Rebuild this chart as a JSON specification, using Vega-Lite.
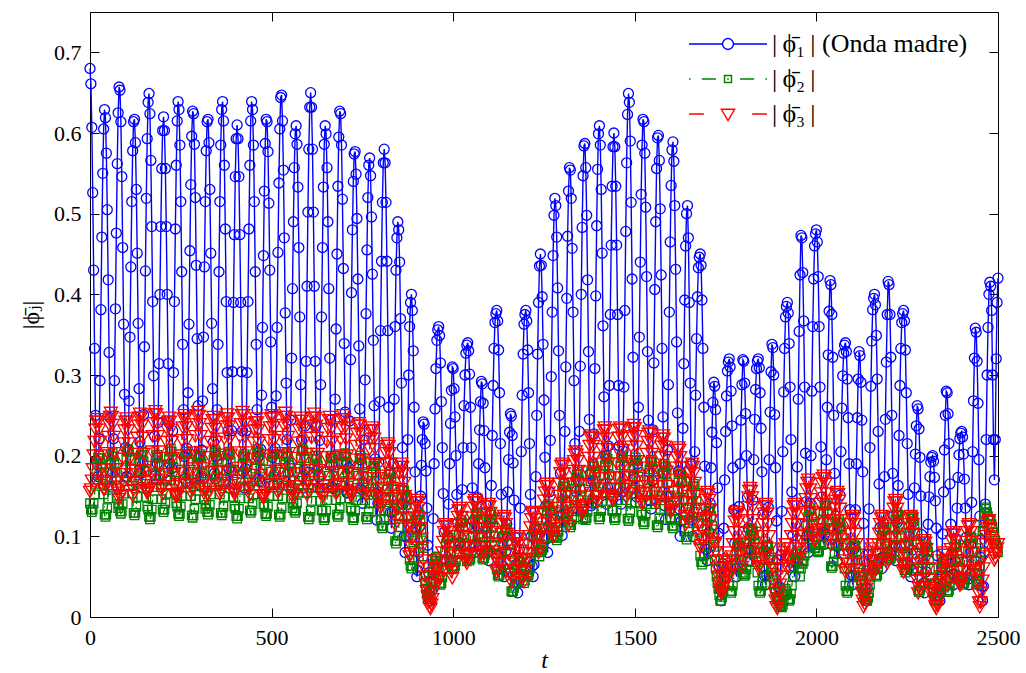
{
"$schema": "https://vega.github.io/schema/vega-lite/v6.json",
"width": 908, "height": 605,
"autosize": {"type": "none"},
"padding": {"left": 90, "top": 12, "right": 28, "bottom": 56},
"background": "white",
"config": {
  "view": {"stroke": "black", "strokeWidth": 1},
  "axis": {"grid": false, "domain": false, "tickColor": "black", "tickWidth": 1, "tickSize": -9,
           "labelFont": "Liberation Serif, DejaVu Serif, serif", "labelFontSize": 22, "labelColor": "black",
           "titleFont": "Liberation Serif, DejaVu Serif, serif", "titleFontSize": 24, "titleFontWeight": "normal", "titleColor": "black"}
},
"data": {"values": [
{"t":0,"a":0.68,"b":0.141,"c":0.155},{"t":2.5,"a":0.661,"b":0.133,"c":0.158},{"t":5,"a":0.607,"b":0.13,"c":0.169},{"t":7.5,"a":0.526,"b":0.133,"c":0.183},{"t":10,"a":0.43,"b":0.141,"c":0.2},{"t":12.5,"a":0.333,"b":0.152,"c":0.217},{"t":15,"a":0.25,"b":0.165,"c":0.232},{"t":17.5,"a":0.193,"b":0.178,"c":0.242},{"t":20,"a":0.17,"b":0.19,"c":0.245},{"t":22.5,"a":0.174,"b":0.197,"c":0.242},{"t":25,"a":0.221,"b":0.2,"c":0.232},{"t":27.5,"a":0.293,"b":0.197,"c":0.217},{"t":30,"a":0.381,"b":0.19,"c":0.2},{"t":32.5,"a":0.471,"b":0.178,"c":0.183},{"t":35,"a":0.55,"b":0.165,"c":0.169},{"t":37.5,"a":0.605,"b":0.152,"c":0.158},
{"t":40,"a":0.629,"b":0.127,"c":0.158},{"t":42.5,"a":0.619,"b":0.124,"c":0.168},{"t":45,"a":0.575,"b":0.127,"c":0.183},{"t":47.5,"a":0.505,"b":0.135,"c":0.203},{"t":50,"a":0.418,"b":0.147,"c":0.223},{"t":52.5,"a":0.328,"b":0.163,"c":0.238},{"t":55,"a":0.247,"b":0.179,"c":0.248},{"t":57.5,"a":0.189,"b":0.191,"c":0.253},{"t":60,"a":0.161,"b":0.199,"c":0.248},{"t":62.5,"a":0.179,"b":0.203,"c":0.238},{"t":65,"a":0.221,"b":0.199,"c":0.223},{"t":67.5,"a":0.293,"b":0.191,"c":0.203},{"t":70,"a":0.382,"b":0.179,"c":0.183},{"t":72.5,"a":0.476,"b":0.163,"c":0.168},{"t":75,"a":0.562,"b":0.147,"c":0.158},{"t":77.5,"a":0.625,"b":0.135,"c":0.154},
{"t":80,"a":0.657,"b":0.14,"c":0.146},{"t":82.5,"a":0.653,"b":0.131,"c":0.15},{"t":85,"a":0.614,"b":0.128,"c":0.161},{"t":87.5,"a":0.546,"b":0.131,"c":0.177},{"t":90,"a":0.458,"b":0.14,"c":0.196},{"t":92.5,"a":0.363,"b":0.153,"c":0.215},{"t":95,"a":0.276,"b":0.168,"c":0.231},{"t":97.5,"a":0.21,"b":0.183,"c":0.242},{"t":100,"a":0.174,"b":0.196,"c":0.246},{"t":102.5,"a":0.174,"b":0.205,"c":0.242},{"t":105,"a":0.207,"b":0.208,"c":0.231},{"t":107.5,"a":0.268,"b":0.205,"c":0.215},{"t":110,"a":0.347,"b":0.196,"c":0.196},{"t":112.5,"a":0.434,"b":0.183,"c":0.177},{"t":115,"a":0.515,"b":0.168,"c":0.161},{"t":117.5,"a":0.578,"b":0.153,"c":0.15},
{"t":120,"a":0.614,"b":0.129,"c":0.157},{"t":122.5,"a":0.617,"b":0.126,"c":0.167},{"t":125,"a":0.588,"b":0.129,"c":0.182},{"t":127.5,"a":0.53,"b":0.137,"c":0.202},{"t":130,"a":0.451,"b":0.149,"c":0.222},{"t":132.5,"a":0.364,"b":0.165,"c":0.237},{"t":135,"a":0.283,"b":0.181,"c":0.247},{"t":137.5,"a":0.217,"b":0.193,"c":0.252},{"t":140,"a":0.178,"b":0.201,"c":0.247},{"t":142.5,"a":0.161,"b":0.205,"c":0.237},{"t":145,"a":0.19,"b":0.201,"c":0.222},{"t":147.5,"a":0.251,"b":0.193,"c":0.202},{"t":150,"a":0.335,"b":0.181,"c":0.182},{"t":152.5,"a":0.429,"b":0.165,"c":0.167},{"t":155,"a":0.519,"b":0.149,"c":0.157},{"t":157.5,"a":0.593,"b":0.137,"c":0.153},
{"t":160,"a":0.638,"b":0.133,"c":0.155},{"t":162.5,"a":0.649,"b":0.124,"c":0.159},{"t":165,"a":0.624,"b":0.121,"c":0.17},{"t":167.5,"a":0.566,"b":0.124,"c":0.186},{"t":170,"a":0.484,"b":0.133,"c":0.205},{"t":172.5,"a":0.391,"b":0.146,"c":0.224},{"t":175,"a":0.299,"b":0.161,"c":0.24},{"t":177.5,"a":0.224,"b":0.176,"c":0.251},{"t":180,"a":0.175,"b":0.189,"c":0.255},{"t":182.5,"a":0.17,"b":0.198,"c":0.251},{"t":185,"a":0.19,"b":0.201,"c":0.24},{"t":187.5,"a":0.241,"b":0.198,"c":0.224},{"t":190,"a":0.314,"b":0.189,"c":0.205},{"t":192.5,"a":0.40,"b":0.176,"c":0.186},{"t":195,"a":0.484,"b":0.161,"c":0.17},{"t":197.5,"a":0.556,"b":0.146,"c":0.159},
{"t":200,"a":0.603,"b":0.133,"c":0.152},{"t":202.5,"a":0.62,"b":0.13,"c":0.162},{"t":205,"a":0.603,"b":0.133,"c":0.177},{"t":207.5,"a":0.556,"b":0.141,"c":0.197},{"t":210,"a":0.484,"b":0.153,"c":0.217},{"t":212.5,"a":0.40,"b":0.169,"c":0.232},{"t":215,"a":0.314,"b":0.185,"c":0.242},{"t":217.5,"a":0.241,"b":0.197,"c":0.247},{"t":220,"a":0.19,"b":0.205,"c":0.242},{"t":222.5,"a":0.17,"b":0.209,"c":0.232},{"t":225,"a":0.184,"b":0.205,"c":0.217},{"t":227.5,"a":0.231,"b":0.197,"c":0.197},{"t":230,"a":0.303,"b":0.185,"c":0.177},{"t":232.5,"a":0.391,"b":0.169,"c":0.162},{"t":235,"a":0.481,"b":0.153,"c":0.152},{"t":237.5,"a":0.56,"b":0.141,"c":0.148},
{"t":240,"a":0.615,"b":0.137,"c":0.15},{"t":242.5,"a":0.639,"b":0.128,"c":0.154},{"t":245,"a":0.629,"b":0.125,"c":0.165},{"t":247.5,"a":0.585,"b":0.128,"c":0.181},{"t":250,"a":0.515,"b":0.137,"c":0.2},{"t":252.5,"a":0.428,"b":0.15,"c":0.219},{"t":255,"a":0.338,"b":0.165,"c":0.235},{"t":257.5,"a":0.257,"b":0.18,"c":0.246},{"t":260,"a":0.199,"b":0.193,"c":0.25},{"t":262.5,"a":0.171,"b":0.202,"c":0.246},{"t":265,"a":0.168,"b":0.205,"c":0.235},{"t":267.5,"a":0.209,"b":0.202,"c":0.219},{"t":270,"a":0.278,"b":0.193,"c":0.2},{"t":272.5,"a":0.363,"b":0.18,"c":0.181},{"t":275,"a":0.454,"b":0.165,"c":0.165},{"t":277.5,"a":0.536,"b":0.15,"c":0.154},
{"t":280,"a":0.596,"b":0.126,"c":0.159},{"t":282.5,"a":0.627,"b":0.123,"c":0.169},{"t":285,"a":0.624,"b":0.126,"c":0.184},{"t":287.5,"a":0.586,"b":0.134,"c":0.204},{"t":290,"a":0.52,"b":0.146,"c":0.224},{"t":292.5,"a":0.436,"b":0.162,"c":0.239},{"t":295,"a":0.345,"b":0.178,"c":0.249},{"t":297.5,"a":0.262,"b":0.19,"c":0.254},{"t":300,"a":0.199,"b":0.198,"c":0.249},{"t":302.5,"a":0.164,"b":0.202,"c":0.239},{"t":305,"a":0.174,"b":0.198,"c":0.224},{"t":307.5,"a":0.207,"b":0.19,"c":0.204},{"t":310,"a":0.268,"b":0.178,"c":0.184},{"t":312.5,"a":0.347,"b":0.162,"c":0.169},{"t":315,"a":0.434,"b":0.146,"c":0.159},{"t":317.5,"a":0.515,"b":0.134,"c":0.155},
{"t":320,"a":0.578,"b":0.139,"c":0.148},{"t":322.5,"a":0.614,"b":0.13,"c":0.152},{"t":325,"a":0.617,"b":0.127,"c":0.163},{"t":327.5,"a":0.588,"b":0.13,"c":0.179},{"t":330,"a":0.53,"b":0.139,"c":0.198},{"t":332.5,"a":0.451,"b":0.152,"c":0.217},{"t":335,"a":0.364,"b":0.167,"c":0.233},{"t":337.5,"a":0.283,"b":0.182,"c":0.244},{"t":340,"a":0.217,"b":0.195,"c":0.248},{"t":342.5,"a":0.178,"b":0.204,"c":0.244},{"t":345,"a":0.171,"b":0.207,"c":0.233},{"t":347.5,"a":0.199,"b":0.204,"c":0.217},{"t":350,"a":0.257,"b":0.195,"c":0.198},{"t":352.5,"a":0.338,"b":0.182,"c":0.179},{"t":355,"a":0.428,"b":0.167,"c":0.163},{"t":357.5,"a":0.515,"b":0.152,"c":0.152},
{"t":360,"a":0.585,"b":0.129,"c":0.156},{"t":362.5,"a":0.629,"b":0.126,"c":0.166},{"t":365,"a":0.639,"b":0.129,"c":0.181},{"t":367.5,"a":0.615,"b":0.137,"c":0.201},{"t":370,"a":0.56,"b":0.149,"c":0.221},{"t":372.5,"a":0.481,"b":0.165,"c":0.236},{"t":375,"a":0.391,"b":0.181,"c":0.246},{"t":377.5,"a":0.303,"b":0.193,"c":0.251},{"t":380,"a":0.231,"b":0.201,"c":0.246},{"t":382.5,"a":0.184,"b":0.205,"c":0.236},{"t":385,"a":0.16,"b":0.201,"c":0.221},{"t":387.5,"a":0.18,"b":0.193,"c":0.201},{"t":390,"a":0.231,"b":0.181,"c":0.181},{"t":392.5,"a":0.304,"b":0.165,"c":0.166},{"t":395,"a":0.39,"b":0.149,"c":0.156},{"t":397.5,"a":0.474,"b":0.137,"c":0.152},
{"t":400,"a":0.546,"b":0.134,"c":0.154},{"t":402.5,"a":0.593,"b":0.125,"c":0.158},{"t":405,"a":0.61,"b":0.122,"c":0.169},{"t":407.5,"a":0.593,"b":0.125,"c":0.185},{"t":410,"a":0.546,"b":0.134,"c":0.204},{"t":412.5,"a":0.474,"b":0.147,"c":0.223},{"t":415,"a":0.39,"b":0.162,"c":0.239},{"t":417.5,"a":0.304,"b":0.177,"c":0.25},{"t":420,"a":0.231,"b":0.19,"c":0.254},{"t":422.5,"a":0.18,"b":0.199,"c":0.25},{"t":425,"a":0.16,"b":0.202,"c":0.239},{"t":427.5,"a":0.184,"b":0.199,"c":0.223},{"t":430,"a":0.231,"b":0.19,"c":0.204},{"t":432.5,"a":0.303,"b":0.177,"c":0.185},{"t":435,"a":0.391,"b":0.162,"c":0.169},{"t":437.5,"a":0.481,"b":0.147,"c":0.158},
{"t":440,"a":0.56,"b":0.132,"c":0.151},{"t":442.5,"a":0.615,"b":0.129,"c":0.161},{"t":445,"a":0.639,"b":0.132,"c":0.176},{"t":447.5,"a":0.629,"b":0.14,"c":0.196},{"t":450,"a":0.585,"b":0.152,"c":0.216},{"t":452.5,"a":0.515,"b":0.168,"c":0.231},{"t":455,"a":0.428,"b":0.184,"c":0.241},{"t":457.5,"a":0.338,"b":0.196,"c":0.246},{"t":460,"a":0.257,"b":0.204,"c":0.241},{"t":462.5,"a":0.199,"b":0.208,"c":0.231},{"t":465,"a":0.171,"b":0.204,"c":0.216},{"t":467.5,"a":0.168,"b":0.196,"c":0.196},{"t":470,"a":0.208,"b":0.184,"c":0.176},{"t":472.5,"a":0.275,"b":0.168,"c":0.161},{"t":475,"a":0.359,"b":0.152,"c":0.151},{"t":477.5,"a":0.448,"b":0.14,"c":0.147},
{"t":480,"a":0.528,"b":0.137,"c":0.15},{"t":482.5,"a":0.587,"b":0.128,"c":0.154},{"t":485,"a":0.617,"b":0.125,"c":0.165},{"t":487.5,"a":0.614,"b":0.128,"c":0.181},{"t":490,"a":0.577,"b":0.137,"c":0.2},{"t":492.5,"a":0.513,"b":0.15,"c":0.219},{"t":495,"a":0.43,"b":0.165,"c":0.235},{"t":497.5,"a":0.341,"b":0.18,"c":0.246},{"t":500,"a":0.26,"b":0.193,"c":0.25},{"t":502.5,"a":0.198,"b":0.202,"c":0.246},{"t":505,"a":0.164,"b":0.205,"c":0.235},{"t":507.5,"a":0.174,"b":0.202,"c":0.219},{"t":510,"a":0.209,"b":0.193,"c":0.2},{"t":512.5,"a":0.274,"b":0.18,"c":0.181},{"t":515,"a":0.359,"b":0.165,"c":0.165},{"t":517.5,"a":0.452,"b":0.15,"c":0.154},
{"t":520,"a":0.538,"b":0.127,"c":0.158},{"t":522.5,"a":0.605,"b":0.124,"c":0.168},{"t":525,"a":0.644,"b":0.127,"c":0.183},{"t":527.5,"a":0.647,"b":0.135,"c":0.203},{"t":530,"a":0.615,"b":0.147,"c":0.223},{"t":532.5,"a":0.554,"b":0.163,"c":0.238},{"t":535,"a":0.47,"b":0.179,"c":0.248},{"t":537.5,"a":0.377,"b":0.191,"c":0.253},{"t":540,"a":0.29,"b":0.199,"c":0.248},{"t":542.5,"a":0.22,"b":0.203,"c":0.238},{"t":545,"a":0.179,"b":0.199,"c":0.223},{"t":547.5,"a":0.161,"b":0.191,"c":0.203},{"t":550,"a":0.188,"b":0.179,"c":0.183},{"t":552.5,"a":0.244,"b":0.163,"c":0.168},{"t":555,"a":0.321,"b":0.147,"c":0.158},{"t":557.5,"a":0.407,"b":0.135,"c":0.154},
{"t":560,"a":0.49,"b":0.141,"c":0.147},{"t":562.5,"a":0.557,"b":0.132,"c":0.151},{"t":565,"a":0.599,"b":0.129,"c":0.162},{"t":567.5,"a":0.609,"b":0.132,"c":0.178},{"t":570,"a":0.586,"b":0.141,"c":0.197},{"t":572.5,"a":0.533,"b":0.154,"c":0.216},{"t":575,"a":0.458,"b":0.169,"c":0.232},{"t":577.5,"a":0.372,"b":0.184,"c":0.243},{"t":580,"a":0.288,"b":0.197,"c":0.247},{"t":582.5,"a":0.219,"b":0.206,"c":0.243},{"t":585,"a":0.174,"b":0.209,"c":0.232},{"t":587.5,"a":0.16,"b":0.206,"c":0.216},{"t":590,"a":0.182,"b":0.197,"c":0.197},{"t":592.5,"a":0.237,"b":0.184,"c":0.178},{"t":595,"a":0.317,"b":0.169,"c":0.162},{"t":597.5,"a":0.41,"b":0.154,"c":0.151},
{"t":600,"a":0.502,"b":0.124,"c":0.157},{"t":602.5,"a":0.58,"b":0.121,"c":0.167},{"t":605,"a":0.632,"b":0.124,"c":0.182},{"t":607.5,"a":0.65,"b":0.132,"c":0.202},{"t":610,"a":0.632,"b":0.144,"c":0.222},{"t":612.5,"a":0.58,"b":0.16,"c":0.237},{"t":615,"a":0.502,"b":0.176,"c":0.247},{"t":617.5,"a":0.41,"b":0.188,"c":0.252},{"t":620,"a":0.317,"b":0.196,"c":0.247},{"t":622.5,"a":0.237,"b":0.2,"c":0.237},{"t":625,"a":0.182,"b":0.196,"c":0.222},{"t":627.5,"a":0.16,"b":0.188,"c":0.202},{"t":630,"a":0.174,"b":0.176,"c":0.182},{"t":632.5,"a":0.219,"b":0.16,"c":0.167},{"t":635,"a":0.288,"b":0.144,"c":0.157},{"t":637.5,"a":0.372,"b":0.132,"c":0.153},
{"t":640,"a":0.458,"b":0.132,"c":0.148},{"t":642.5,"a":0.533,"b":0.123,"c":0.152},{"t":645,"a":0.586,"b":0.12,"c":0.163},{"t":647.5,"a":0.609,"b":0.123,"c":0.179},{"t":650,"a":0.599,"b":0.132,"c":0.198},{"t":652.5,"a":0.557,"b":0.145,"c":0.217},{"t":655,"a":0.49,"b":0.16,"c":0.233},{"t":657.5,"a":0.407,"b":0.175,"c":0.244},{"t":660,"a":0.321,"b":0.188,"c":0.248},{"t":662.5,"a":0.244,"b":0.197,"c":0.244},{"t":665,"a":0.188,"b":0.2,"c":0.233},{"t":667.5,"a":0.161,"b":0.197,"c":0.217},{"t":670,"a":0.159,"b":0.188,"c":0.198},{"t":672.5,"a":0.20,"b":0.175,"c":0.179},{"t":675,"a":0.27,"b":0.16,"c":0.163},{"t":677.5,"a":0.357,"b":0.145,"c":0.152},
{"t":680,"a":0.45,"b":0.127,"c":0.155},{"t":682.5,"a":0.534,"b":0.124,"c":0.165},{"t":685,"a":0.595,"b":0.127,"c":0.18},{"t":687.5,"a":0.627,"b":0.135,"c":0.2},{"t":690,"a":0.624,"b":0.147,"c":0.22},{"t":692.5,"a":0.585,"b":0.163,"c":0.235},{"t":695,"a":0.518,"b":0.179,"c":0.245},{"t":697.5,"a":0.432,"b":0.191,"c":0.25},{"t":700,"a":0.339,"b":0.199,"c":0.245},{"t":702.5,"a":0.254,"b":0.203,"c":0.235},{"t":705,"a":0.189,"b":0.199,"c":0.22},{"t":707.5,"a":0.154,"b":0.191,"c":0.2},{"t":710,"a":0.154,"b":0.179,"c":0.18},{"t":712.5,"a":0.185,"b":0.163,"c":0.165},{"t":715,"a":0.243,"b":0.147,"c":0.155},{"t":717.5,"a":0.319,"b":0.135,"c":0.151},
{"t":720,"a":0.402,"b":0.132,"c":0.15},{"t":722.5,"a":0.48,"b":0.123,"c":0.153},{"t":725,"a":0.54,"b":0.12,"c":0.164},{"t":727.5,"a":0.574,"b":0.123,"c":0.178},{"t":730,"a":0.577,"b":0.132,"c":0.195},{"t":732.5,"a":0.549,"b":0.145,"c":0.212},{"t":735,"a":0.494,"b":0.16,"c":0.227},{"t":737.5,"a":0.419,"b":0.175,"c":0.237},{"t":740,"a":0.336,"b":0.188,"c":0.24},{"t":742.5,"a":0.258,"b":0.197,"c":0.237},{"t":745,"a":0.195,"b":0.2,"c":0.227},{"t":747.5,"a":0.158,"b":0.197,"c":0.212},{"t":750,"a":0.141,"b":0.188,"c":0.195},{"t":752.5,"a":0.167,"b":0.175,"c":0.178},{"t":755,"a":0.22,"b":0.16,"c":0.164},{"t":757.5,"a":0.294,"b":0.145,"c":0.153},
{"t":760,"a":0.376,"b":0.124,"c":0.15},{"t":762.5,"a":0.455,"b":0.121,"c":0.159},{"t":765,"a":0.52,"b":0.124,"c":0.172},{"t":767.5,"a":0.56,"b":0.131,"c":0.19},{"t":770,"a":0.569,"b":0.141,"c":0.208},{"t":772.5,"a":0.547,"b":0.155,"c":0.221},{"t":775,"a":0.496,"b":0.169,"c":0.231},{"t":777.5,"a":0.425,"b":0.179,"c":0.235},{"t":780,"a":0.343,"b":0.187,"c":0.231},{"t":782.5,"a":0.262,"b":0.19,"c":0.221},{"t":785,"a":0.196,"b":0.187,"c":0.208},{"t":787.5,"a":0.153,"b":0.179,"c":0.19},{"t":790,"a":0.12,"b":0.169,"c":0.172},{"t":792.5,"a":0.141,"b":0.155,"c":0.159},{"t":795,"a":0.192,"b":0.141,"c":0.15},{"t":797.5,"a":0.267,"b":0.131,"c":0.146},
{"t":800,"a":0.355,"b":0.121,"c":0.135},{"t":802.5,"a":0.441,"b":0.113,"c":0.138},{"t":805,"a":0.514,"b":0.11,"c":0.147},{"t":807.5,"a":0.563,"b":0.113,"c":0.16},{"t":810,"a":0.58,"b":0.121,"c":0.175},{"t":812.5,"a":0.563,"b":0.132,"c":0.19},{"t":815,"a":0.514,"b":0.145,"c":0.203},{"t":817.5,"a":0.441,"b":0.158,"c":0.212},{"t":820,"a":0.355,"b":0.17,"c":0.215},{"t":822.5,"a":0.26,"b":0.177,"c":0.212},{"t":825,"a":0.18,"b":0.18,"c":0.203},{"t":827.5,"a":0.13,"b":0.177,"c":0.19},{"t":830,"a":0.11,"b":0.17,"c":0.175},{"t":832.5,"a":0.13,"b":0.158,"c":0.16},{"t":835,"a":0.19,"b":0.145,"c":0.147},{"t":837.5,"a":0.27,"b":0.132,"c":0.138},
{"t":840,"a":0.36,"b":0.094,"c":0.114},{"t":842.5,"a":0.43,"b":0.091,"c":0.122},{"t":845,"a":0.47,"b":0.094,"c":0.134},{"t":847.5,"a":0.49,"b":0.101,"c":0.15},{"t":850,"a":0.48,"b":0.111,"c":0.166},{"t":852.5,"a":0.44,"b":0.125,"c":0.178},{"t":855,"a":0.37,"b":0.139,"c":0.186},{"t":857.5,"a":0.29,"b":0.149,"c":0.19},{"t":860,"a":0.21,"b":0.157,"c":0.186},{"t":862.5,"a":0.14,"b":0.16,"c":0.178},{"t":865,"a":0.10,"b":0.157,"c":0.166},{"t":867.5,"a":0.08,"b":0.149,"c":0.15},{"t":870,"a":0.10,"b":0.139,"c":0.134},{"t":872.5,"a":0.15,"b":0.125,"c":0.122},{"t":875,"a":0.22,"b":0.111,"c":0.114},{"t":877.5,"a":0.30,"b":0.101,"c":0.111},
{"t":880,"a":0.36,"b":0.071,"c":0.075},{"t":882.5,"a":0.39,"b":0.063,"c":0.078},{"t":885,"a":0.40,"b":0.06,"c":0.086},{"t":887.5,"a":0.38,"b":0.063,"c":0.097},{"t":890,"a":0.33,"b":0.071,"c":0.11},{"t":892.5,"a":0.26,"b":0.082,"c":0.123},{"t":895,"a":0.18,"b":0.095,"c":0.135},{"t":897.5,"a":0.11,"b":0.108,"c":0.142},{"t":900,"a":0.05,"b":0.12,"c":0.145},{"t":902.5,"a":0.058,"b":0.127,"c":0.142},{"t":905,"a":0.08,"b":0.13,"c":0.135},{"t":907.5,"a":0.112,"b":0.127,"c":0.123},{"t":910,"a":0.15,"b":0.12,"c":0.11},{"t":912.5,"a":0.188,"b":0.108,"c":0.097},{"t":915,"a":0.22,"b":0.095,"c":0.086},{"t":917.5,"a":0.242,"b":0.075,"c":0.07},
{"t":920,"a":0.239,"b":0.05,"c":0.06},{"t":922.5,"a":0.215,"b":0.042,"c":0.05},{"t":925,"a":0.181,"b":0.035,"c":0.04},{"t":927.5,"a":0.135,"b":0.028,"c":0.032},{"t":930,"a":0.089,"b":0.022,"c":0.025},{"t":932.5,"a":0.055,"b":0.025,"c":0.018},{"t":935,"a":0.032,"b":0.03,"c":0.012},{"t":937.5,"a":0.02,"b":0.037,"c":0.01},{"t":940,"a":0.032,"b":0.045,"c":0.015},{"t":942.5,"a":0.072,"b":0.052,"c":0.022},{"t":945,"a":0.122,"b":0.06,"c":0.03},{"t":947.5,"a":0.19,"b":0.066,"c":0.04},{"t":950,"a":0.258,"b":0.07,"c":0.05},{"t":952.5,"a":0.308,"b":0.073,"c":0.06},{"t":955,"a":0.343,"b":0.075,"c":0.07},{"t":957.5,"a":0.356,"b":0.062,"c":0.06},
{"t":960,"a":0.36,"b":0.049,"c":0.045},{"t":962.5,"a":0.349,"b":0.042,"c":0.048},{"t":965,"a":0.315,"b":0.04,"c":0.056},{"t":967.5,"a":0.267,"b":0.042,"c":0.067},{"t":970,"a":0.21,"b":0.049,"c":0.08},{"t":972.5,"a":0.153,"b":0.059,"c":0.093},{"t":975,"a":0.105,"b":0.07,"c":0.105},{"t":977.5,"a":0.071,"b":0.081,"c":0.112},{"t":980,"a":0.06,"b":0.091,"c":0.115},{"t":982.5,"a":0.07,"b":0.098,"c":0.112},{"t":985,"a":0.099,"b":0.10,"c":0.105},{"t":987.5,"a":0.14,"b":0.098,"c":0.093},{"t":990,"a":0.19,"b":0.091,"c":0.08},{"t":992.5,"a":0.24,"b":0.081,"c":0.067},{"t":995,"a":0.281,"b":0.07,"c":0.056},{"t":997.5,"a":0.31,"b":0.059,"c":0.048},
{"t":1000,"a":0.308,"b":0.063,"c":0.069},{"t":1002.5,"a":0.283,"b":0.061,"c":0.076},{"t":1005,"a":0.248,"b":0.063,"c":0.086},{"t":1007.5,"a":0.20,"b":0.069,"c":0.10},{"t":1010,"a":0.152,"b":0.078,"c":0.114},{"t":1012.5,"a":0.117,"b":0.09,"c":0.124},{"t":1015,"a":0.092,"b":0.102,"c":0.132},{"t":1017.5,"a":0.08,"b":0.111,"c":0.135},{"t":1020,"a":0.092,"b":0.117,"c":0.132},{"t":1022.5,"a":0.12,"b":0.12,"c":0.124},{"t":1025,"a":0.158,"b":0.117,"c":0.114},{"t":1027.5,"a":0.21,"b":0.111,"c":0.10},{"t":1030,"a":0.262,"b":0.102,"c":0.086},{"t":1032.5,"a":0.30,"b":0.09,"c":0.076},{"t":1035,"a":0.327,"b":0.078,"c":0.069},{"t":1037.5,"a":0.337,"b":0.069,"c":0.066},
{"t":1040,"a":0.34,"b":0.079,"c":0.075},{"t":1042.5,"a":0.33,"b":0.072,"c":0.078},{"t":1045,"a":0.301,"b":0.07,"c":0.086},{"t":1047.5,"a":0.26,"b":0.072,"c":0.097},{"t":1050,"a":0.21,"b":0.079,"c":0.11},{"t":1052.5,"a":0.16,"b":0.089,"c":0.123},{"t":1055,"a":0.119,"b":0.10,"c":0.135},{"t":1057.5,"a":0.09,"b":0.111,"c":0.142},{"t":1060,"a":0.08,"b":0.121,"c":0.145},{"t":1062.5,"a":0.088,"b":0.128,"c":0.142},{"t":1065,"a":0.113,"b":0.13,"c":0.135},{"t":1067.5,"a":0.148,"b":0.128,"c":0.123},{"t":1070,"a":0.19,"b":0.121,"c":0.11},{"t":1072.5,"a":0.232,"b":0.111,"c":0.097},{"t":1075,"a":0.267,"b":0.10,"c":0.086},{"t":1077.5,"a":0.292,"b":0.089,"c":0.078},
{"t":1080,"a":0.289,"b":0.073,"c":0.074},{"t":1082.5,"a":0.265,"b":0.071,"c":0.081},{"t":1085,"a":0.231,"b":0.073,"c":0.091},{"t":1087.5,"a":0.185,"b":0.079,"c":0.105},{"t":1090,"a":0.139,"b":0.088,"c":0.119},{"t":1092.5,"a":0.105,"b":0.10,"c":0.129},{"t":1095,"a":0.082,"b":0.112,"c":0.137},{"t":1097.5,"a":0.07,"b":0.121,"c":0.14},{"t":1100,"a":0.082,"b":0.127,"c":0.137},{"t":1102.5,"a":0.117,"b":0.13,"c":0.129},{"t":1105,"a":0.163,"b":0.127,"c":0.119},{"t":1107.5,"a":0.225,"b":0.121,"c":0.105},{"t":1110,"a":0.287,"b":0.112,"c":0.091},{"t":1112.5,"a":0.333,"b":0.10,"c":0.081},{"t":1115,"a":0.365,"b":0.088,"c":0.074},{"t":1117.5,"a":0.376,"b":0.079,"c":0.071},
{"t":1120,"a":0.38,"b":0.059,"c":0.055},{"t":1122.5,"a":0.367,"b":0.052,"c":0.058},{"t":1125,"a":0.331,"b":0.05,"c":0.066},{"t":1127.5,"a":0.278,"b":0.052,"c":0.077},{"t":1130,"a":0.215,"b":0.059,"c":0.09},{"t":1132.5,"a":0.152,"b":0.069,"c":0.103},{"t":1135,"a":0.10,"b":0.08,"c":0.115},{"t":1137.5,"a":0.063,"b":0.091,"c":0.122},{"t":1140,"a":0.05,"b":0.101,"c":0.125},{"t":1142.5,"a":0.058,"b":0.108,"c":0.122},{"t":1145,"a":0.082,"b":0.11,"c":0.115},{"t":1147.5,"a":0.115,"b":0.108,"c":0.103},{"t":1150,"a":0.155,"b":0.101,"c":0.09},{"t":1152.5,"a":0.195,"b":0.091,"c":0.077},{"t":1155,"a":0.229,"b":0.08,"c":0.066},{"t":1157.5,"a":0.252,"b":0.055,"c":0.052},
{"t":1160,"a":0.249,"b":0.032,"c":0.043},{"t":1162.5,"a":0.225,"b":0.031,"c":0.049},{"t":1165,"a":0.191,"b":0.032,"c":0.058},{"t":1167.5,"a":0.145,"b":0.036,"c":0.07},{"t":1170,"a":0.099,"b":0.042,"c":0.082},{"t":1172.5,"a":0.065,"b":0.05,"c":0.091},{"t":1175,"a":0.042,"b":0.058,"c":0.097},{"t":1177.5,"a":0.03,"b":0.064,"c":0.10},{"t":1180,"a":0.042,"b":0.068,"c":0.097},{"t":1182.5,"a":0.084,"b":0.07,"c":0.091},{"t":1185,"a":0.135,"b":0.068,"c":0.082},{"t":1187.5,"a":0.205,"b":0.064,"c":0.07},{"t":1190,"a":0.275,"b":0.058,"c":0.058},{"t":1192.5,"a":0.326,"b":0.05,"c":0.049},{"t":1195,"a":0.363,"b":0.042,"c":0.043},{"t":1197.5,"a":0.375,"b":0.045,"c":0.055},
{"t":1200,"a":0.38,"b":0.059,"c":0.07},{"t":1202.5,"a":0.367,"b":0.052,"c":0.072},{"t":1205,"a":0.331,"b":0.05,"c":0.079},{"t":1207.5,"a":0.278,"b":0.052,"c":0.089},{"t":1210,"a":0.215,"b":0.059,"c":0.10},{"t":1212.5,"a":0.152,"b":0.069,"c":0.111},{"t":1215,"a":0.10,"b":0.08,"c":0.121},{"t":1217.5,"a":0.063,"b":0.091,"c":0.128},{"t":1220,"a":0.05,"b":0.101,"c":0.13},{"t":1222.5,"a":0.065,"b":0.108,"c":0.128},{"t":1225,"a":0.11,"b":0.11,"c":0.121},{"t":1227.5,"a":0.174,"b":0.108,"c":0.111},{"t":1230,"a":0.25,"b":0.101,"c":0.10},{"t":1232.5,"a":0.326,"b":0.091,"c":0.089},{"t":1235,"a":0.39,"b":0.08,"c":0.079},{"t":1237.5,"a":0.435,"b":0.075,"c":0.085},
{"t":1240,"a":0.45,"b":0.083,"c":0.099},{"t":1242.5,"a":0.436,"b":0.081,"c":0.106},{"t":1245,"a":0.397,"b":0.083,"c":0.116},{"t":1247.5,"a":0.338,"b":0.089,"c":0.13},{"t":1250,"a":0.269,"b":0.098,"c":0.144},{"t":1252.5,"a":0.198,"b":0.11,"c":0.154},{"t":1255,"a":0.138,"b":0.122,"c":0.162},{"t":1257.5,"a":0.097,"b":0.131,"c":0.165},{"t":1260,"a":0.08,"b":0.137,"c":0.162},{"t":1262.5,"a":0.113,"b":0.14,"c":0.154},{"t":1265,"a":0.155,"b":0.137,"c":0.144},{"t":1267.5,"a":0.219,"b":0.131,"c":0.13},{"t":1270,"a":0.298,"b":0.122,"c":0.116},{"t":1272.5,"a":0.378,"b":0.11,"c":0.106},{"t":1275,"a":0.448,"b":0.098,"c":0.099},{"t":1277.5,"a":0.498,"b":0.10,"c":0.10},
{"t":1280,"a":0.519,"b":0.106,"c":0.11},{"t":1282.5,"a":0.51,"b":0.098,"c":0.113},{"t":1285,"a":0.471,"b":0.095,"c":0.122},{"t":1287.5,"a":0.408,"b":0.098,"c":0.135},{"t":1290,"a":0.33,"b":0.106,"c":0.15},{"t":1292.5,"a":0.25,"b":0.117,"c":0.165},{"t":1295,"a":0.178,"b":0.13,"c":0.178},{"t":1297.5,"a":0.126,"b":0.143,"c":0.187},{"t":1300,"a":0.101,"b":0.155,"c":0.19},{"t":1302.5,"a":0.128,"b":0.162,"c":0.187},{"t":1305,"a":0.166,"b":0.165,"c":0.178},{"t":1307.5,"a":0.23,"b":0.162,"c":0.165},{"t":1310,"a":0.31,"b":0.155,"c":0.15},{"t":1312.5,"a":0.395,"b":0.143,"c":0.135},{"t":1315,"a":0.472,"b":0.13,"c":0.122},{"t":1317.5,"a":0.528,"b":0.117,"c":0.113},
{"t":1320,"a":0.557,"b":0.114,"c":0.129},{"t":1322.5,"a":0.554,"b":0.111,"c":0.137},{"t":1325,"a":0.519,"b":0.114,"c":0.149},{"t":1327.5,"a":0.457,"b":0.121,"c":0.165},{"t":1330,"a":0.378,"b":0.131,"c":0.181},{"t":1332.5,"a":0.293,"b":0.145,"c":0.193},{"t":1335,"a":0.215,"b":0.159,"c":0.201},{"t":1337.5,"a":0.156,"b":0.169,"c":0.205},{"t":1340,"a":0.124,"b":0.177,"c":0.201},{"t":1342.5,"a":0.134,"b":0.18,"c":0.193},{"t":1345,"a":0.168,"b":0.177,"c":0.181},{"t":1347.5,"a":0.23,"b":0.169,"c":0.165},{"t":1350,"a":0.311,"b":0.159,"c":0.149},{"t":1352.5,"a":0.40,"b":0.145,"c":0.137},{"t":1355,"a":0.483,"b":0.131,"c":0.129},{"t":1357.5,"a":0.547,"b":0.121,"c":0.13},
{"t":1360,"a":0.584,"b":0.131,"c":0.135},{"t":1362.5,"a":0.587,"b":0.123,"c":0.138},{"t":1365,"a":0.557,"b":0.12,"c":0.149},{"t":1367.5,"a":0.498,"b":0.123,"c":0.163},{"t":1370,"a":0.418,"b":0.131,"c":0.18},{"t":1372.5,"a":0.329,"b":0.142,"c":0.197},{"t":1375,"a":0.245,"b":0.155,"c":0.212},{"t":1377.5,"a":0.178,"b":0.168,"c":0.222},{"t":1380,"a":0.138,"b":0.18,"c":0.225},{"t":1382.5,"a":0.141,"b":0.187,"c":0.222},{"t":1385,"a":0.169,"b":0.19,"c":0.212},{"t":1387.5,"a":0.227,"b":0.187,"c":0.197},{"t":1390,"a":0.308,"b":0.18,"c":0.18},{"t":1392.5,"a":0.398,"b":0.168,"c":0.163},{"t":1395,"a":0.485,"b":0.155,"c":0.149},{"t":1397.5,"a":0.555,"b":0.142,"c":0.142},
{"t":1400,"a":0.599,"b":0.124,"c":0.15},{"t":1402.5,"a":0.609,"b":0.121,"c":0.159},{"t":1405,"a":0.585,"b":0.124,"c":0.172},{"t":1407.5,"a":0.53,"b":0.132,"c":0.19},{"t":1410,"a":0.451,"b":0.144,"c":0.208},{"t":1412.5,"a":0.361,"b":0.16,"c":0.221},{"t":1415,"a":0.273,"b":0.176,"c":0.231},{"t":1417.5,"a":0.201,"b":0.188,"c":0.235},{"t":1420,"a":0.154,"b":0.196,"c":0.231},{"t":1422.5,"a":0.14,"b":0.20,"c":0.221},{"t":1425,"a":0.161,"b":0.196,"c":0.208},{"t":1427.5,"a":0.212,"b":0.188,"c":0.19},{"t":1430,"a":0.287,"b":0.176,"c":0.172},{"t":1432.5,"a":0.375,"b":0.16,"c":0.159},{"t":1435,"a":0.461,"b":0.144,"c":0.15},{"t":1437.5,"a":0.534,"b":0.132,"c":0.146},
{"t":1440,"a":0.583,"b":0.132,"c":0.145},{"t":1442.5,"a":0.60,"b":0.123,"c":0.148},{"t":1445,"a":0.583,"b":0.12,"c":0.159},{"t":1447.5,"a":0.534,"b":0.123,"c":0.173},{"t":1450,"a":0.461,"b":0.132,"c":0.19},{"t":1452.5,"a":0.375,"b":0.145,"c":0.207},{"t":1455,"a":0.287,"b":0.16,"c":0.222},{"t":1457.5,"a":0.212,"b":0.175,"c":0.232},{"t":1460,"a":0.161,"b":0.188,"c":0.235},{"t":1462.5,"a":0.14,"b":0.197,"c":0.232},{"t":1465,"a":0.155,"b":0.2,"c":0.222},{"t":1467.5,"a":0.206,"b":0.197,"c":0.207},{"t":1470,"a":0.285,"b":0.188,"c":0.19},{"t":1472.5,"a":0.38,"b":0.175,"c":0.173},{"t":1475,"a":0.478,"b":0.16,"c":0.159},{"t":1477.5,"a":0.563,"b":0.145,"c":0.148},
{"t":1480,"a":0.623,"b":0.122,"c":0.153},{"t":1482.5,"a":0.649,"b":0.119,"c":0.162},{"t":1485,"a":0.638,"b":0.122,"c":0.175},{"t":1487.5,"a":0.59,"b":0.13,"c":0.193},{"t":1490,"a":0.514,"b":0.142,"c":0.211},{"t":1492.5,"a":0.419,"b":0.158,"c":0.224},{"t":1495,"a":0.322,"b":0.174,"c":0.234},{"t":1497.5,"a":0.235,"b":0.186,"c":0.238},{"t":1500,"a":0.172,"b":0.194,"c":0.234},{"t":1502.5,"a":0.142,"b":0.198,"c":0.224},{"t":1505,"a":0.149,"b":0.194,"c":0.211},{"t":1507.5,"a":0.19,"b":0.186,"c":0.193},{"t":1510,"a":0.26,"b":0.174,"c":0.175},{"t":1512.5,"a":0.347,"b":0.158,"c":0.162},{"t":1515,"a":0.44,"b":0.142,"c":0.153},{"t":1517.5,"a":0.524,"b":0.13,"c":0.149},
{"t":1520,"a":0.585,"b":0.127,"c":0.14},{"t":1522.5,"a":0.617,"b":0.118,"c":0.143},{"t":1525,"a":0.614,"b":0.115,"c":0.154},{"t":1527.5,"a":0.575,"b":0.118,"c":0.168},{"t":1530,"a":0.508,"b":0.127,"c":0.185},{"t":1532.5,"a":0.422,"b":0.14,"c":0.202},{"t":1535,"a":0.329,"b":0.155,"c":0.217},{"t":1537.5,"a":0.244,"b":0.17,"c":0.227},{"t":1540,"a":0.179,"b":0.183,"c":0.23},{"t":1542.5,"a":0.144,"b":0.192,"c":0.227},{"t":1545,"a":0.134,"b":0.195,"c":0.217},{"t":1547.5,"a":0.169,"b":0.192,"c":0.202},{"t":1550,"a":0.232,"b":0.183,"c":0.185},{"t":1552.5,"a":0.315,"b":0.17,"c":0.168},{"t":1555,"a":0.406,"b":0.155,"c":0.154},{"t":1557.5,"a":0.49,"b":0.14,"c":0.143},
{"t":1560,"a":0.556,"b":0.114,"c":0.14},{"t":1562.5,"a":0.594,"b":0.111,"c":0.149},{"t":1565,"a":0.597,"b":0.114,"c":0.162},{"t":1567.5,"a":0.566,"b":0.122,"c":0.18},{"t":1570,"a":0.506,"b":0.134,"c":0.198},{"t":1572.5,"a":0.424,"b":0.15,"c":0.211},{"t":1575,"a":0.333,"b":0.166,"c":0.221},{"t":1577.5,"a":0.248,"b":0.178,"c":0.225},{"t":1580,"a":0.179,"b":0.186,"c":0.221},{"t":1582.5,"a":0.138,"b":0.19,"c":0.211},{"t":1585,"a":0.121,"b":0.186,"c":0.198},{"t":1587.5,"a":0.149,"b":0.178,"c":0.18},{"t":1590,"a":0.207,"b":0.166,"c":0.162},{"t":1592.5,"a":0.288,"b":0.15,"c":0.149},{"t":1595,"a":0.378,"b":0.134,"c":0.14},{"t":1597.5,"a":0.465,"b":0.122,"c":0.136},
{"t":1600,"a":0.535,"b":0.121,"c":0.13},{"t":1602.5,"a":0.579,"b":0.113,"c":0.133},{"t":1605,"a":0.589,"b":0.11,"c":0.142},{"t":1607.5,"a":0.565,"b":0.113,"c":0.155},{"t":1610,"a":0.51,"b":0.121,"c":0.17},{"t":1612.5,"a":0.431,"b":0.132,"c":0.185},{"t":1615,"a":0.341,"b":0.145,"c":0.198},{"t":1617.5,"a":0.253,"b":0.158,"c":0.207},{"t":1620,"a":0.181,"b":0.17,"c":0.21},{"t":1622.5,"a":0.134,"b":0.177,"c":0.207},{"t":1625,"a":0.10,"b":0.18,"c":0.198},{"t":1627.5,"a":0.119,"b":0.177,"c":0.185},{"t":1630,"a":0.166,"b":0.17,"c":0.17},{"t":1632.5,"a":0.234,"b":0.158,"c":0.155},{"t":1635,"a":0.314,"b":0.145,"c":0.142},{"t":1637.5,"a":0.393,"b":0.12,"c":0.125},
{"t":1640,"a":0.46,"b":0.099,"c":0.114},{"t":1642.5,"a":0.50,"b":0.096,"c":0.122},{"t":1645,"a":0.51,"b":0.099,"c":0.134},{"t":1647.5,"a":0.47,"b":0.106,"c":0.15},{"t":1650,"a":0.39,"b":0.116,"c":0.166},{"t":1652.5,"a":0.29,"b":0.13,"c":0.178},{"t":1655,"a":0.19,"b":0.144,"c":0.186},{"t":1657.5,"a":0.12,"b":0.154,"c":0.19},{"t":1660,"a":0.10,"b":0.162,"c":0.186},{"t":1662.5,"a":0.13,"b":0.165,"c":0.178},{"t":1665,"a":0.205,"b":0.162,"c":0.166},{"t":1667.5,"a":0.275,"b":0.154,"c":0.15},{"t":1670,"a":0.345,"b":0.144,"c":0.134},{"t":1672.5,"a":0.397,"b":0.13,"c":0.122},{"t":1675,"a":0.433,"b":0.116,"c":0.114},{"t":1677.5,"a":0.446,"b":0.095,"c":0.10},
{"t":1680,"a":0.45,"b":0.076,"c":0.085},{"t":1682.5,"a":0.436,"b":0.068,"c":0.088},{"t":1685,"a":0.393,"b":0.065,"c":0.096},{"t":1687.5,"a":0.333,"b":0.068,"c":0.107},{"t":1690,"a":0.26,"b":0.076,"c":0.12},{"t":1692.5,"a":0.187,"b":0.087,"c":0.133},{"t":1695,"a":0.127,"b":0.10,"c":0.145},{"t":1697.5,"a":0.084,"b":0.113,"c":0.152},{"t":1700,"a":0.07,"b":0.125,"c":0.155},{"t":1702.5,"a":0.079,"b":0.132,"c":0.152},{"t":1705,"a":0.105,"b":0.135,"c":0.145},{"t":1707.5,"a":0.141,"b":0.132,"c":0.133},{"t":1710,"a":0.185,"b":0.125,"c":0.12},{"t":1712.5,"a":0.229,"b":0.113,"c":0.107},{"t":1715,"a":0.266,"b":0.10,"c":0.096},{"t":1717.5,"a":0.291,"b":0.087,"c":0.092},
{"t":1720,"a":0.286,"b":0.07,"c":0.09},{"t":1722.5,"a":0.257,"b":0.06,"c":0.08},{"t":1725,"a":0.216,"b":0.05,"c":0.07},{"t":1727.5,"a":0.16,"b":0.042,"c":0.06},{"t":1730,"a":0.104,"b":0.035,"c":0.05},{"t":1732.5,"a":0.063,"b":0.027,"c":0.042},{"t":1735,"a":0.034,"b":0.02,"c":0.035},{"t":1737.5,"a":0.02,"b":0.02,"c":0.03},{"t":1740,"a":0.034,"b":0.025,"c":0.03},{"t":1742.5,"a":0.066,"b":0.032,"c":0.036},{"t":1745,"a":0.11,"b":0.04,"c":0.045},{"t":1747.5,"a":0.17,"b":0.048,"c":0.052},{"t":1750,"a":0.23,"b":0.055,"c":0.06},{"t":1752.5,"a":0.274,"b":0.062,"c":0.07},{"t":1755,"a":0.305,"b":0.07,"c":0.08},{"t":1757.5,"a":0.316,"b":0.055,"c":0.065},
{"t":1760,"a":0.32,"b":0.039,"c":0.05},{"t":1762.5,"a":0.31,"b":0.032,"c":0.053},{"t":1765,"a":0.28,"b":0.03,"c":0.062},{"t":1767.5,"a":0.237,"b":0.032,"c":0.075},{"t":1770,"a":0.185,"b":0.039,"c":0.09},{"t":1772.5,"a":0.133,"b":0.049,"c":0.105},{"t":1775,"a":0.091,"b":0.06,"c":0.118},{"t":1777.5,"a":0.06,"b":0.071,"c":0.127},{"t":1780,"a":0.05,"b":0.081,"c":0.13},{"t":1782.5,"a":0.061,"b":0.088,"c":0.127},{"t":1785,"a":0.092,"b":0.09,"c":0.118},{"t":1787.5,"a":0.137,"b":0.088,"c":0.105},{"t":1790,"a":0.19,"b":0.081,"c":0.09},{"t":1792.5,"a":0.244,"b":0.071,"c":0.075},{"t":1795,"a":0.288,"b":0.06,"c":0.062},{"t":1797.5,"a":0.319,"b":0.055,"c":0.07},
{"t":1800,"a":0.317,"b":0.053,"c":0.084},{"t":1802.5,"a":0.29,"b":0.051,"c":0.092},{"t":1805,"a":0.252,"b":0.053,"c":0.104},{"t":1807.5,"a":0.20,"b":0.059,"c":0.12},{"t":1810,"a":0.148,"b":0.068,"c":0.136},{"t":1812.5,"a":0.11,"b":0.08,"c":0.148},{"t":1815,"a":0.083,"b":0.092,"c":0.156},{"t":1817.5,"a":0.07,"b":0.101,"c":0.16},{"t":1820,"a":0.083,"b":0.107,"c":0.156},{"t":1822.5,"a":0.108,"b":0.11,"c":0.148},{"t":1825,"a":0.145,"b":0.107,"c":0.136},{"t":1827.5,"a":0.195,"b":0.101,"c":0.12},{"t":1830,"a":0.245,"b":0.092,"c":0.104},{"t":1832.5,"a":0.282,"b":0.08,"c":0.092},{"t":1835,"a":0.308,"b":0.068,"c":0.084},{"t":1837.5,"a":0.317,"b":0.055,"c":0.07},
{"t":1840,"a":0.32,"b":0.039,"c":0.06},{"t":1842.5,"a":0.309,"b":0.032,"c":0.063},{"t":1845,"a":0.278,"b":0.03,"c":0.072},{"t":1847.5,"a":0.234,"b":0.032,"c":0.085},{"t":1850,"a":0.18,"b":0.039,"c":0.10},{"t":1852.5,"a":0.127,"b":0.049,"c":0.115},{"t":1855,"a":0.082,"b":0.06,"c":0.128},{"t":1857.5,"a":0.051,"b":0.071,"c":0.137},{"t":1860,"a":0.04,"b":0.081,"c":0.14},{"t":1862.5,"a":0.052,"b":0.088,"c":0.137},{"t":1865,"a":0.087,"b":0.09,"c":0.128},{"t":1867.5,"a":0.136,"b":0.088,"c":0.115},{"t":1870,"a":0.195,"b":0.081,"c":0.10},{"t":1872.5,"a":0.254,"b":0.071,"c":0.085},{"t":1875,"a":0.304,"b":0.06,"c":0.072},{"t":1877.5,"a":0.338,"b":0.055,"c":0.065},
{"t":1880,"a":0.334,"b":0.05,"c":0.06},{"t":1882.5,"a":0.30,"b":0.042,"c":0.045},{"t":1885,"a":0.251,"b":0.035,"c":0.03},{"t":1887.5,"a":0.185,"b":0.03,"c":0.02},{"t":1890,"a":0.119,"b":0.025,"c":0.012},{"t":1892.5,"a":0.071,"b":0.022,"c":0.01},{"t":1895,"a":0.037,"b":0.02,"c":0.02},{"t":1897.5,"a":0.02,"b":0.017,"c":0.03},{"t":1900,"a":0.037,"b":0.015,"c":0.04},{"t":1902.5,"a":0.077,"b":0.013,"c":0.05},{"t":1905,"a":0.131,"b":0.012,"c":0.06},{"t":1907.5,"a":0.205,"b":0.015,"c":0.07},{"t":1910,"a":0.279,"b":0.02,"c":0.08},{"t":1912.5,"a":0.333,"b":0.027,"c":0.085},{"t":1915,"a":0.372,"b":0.035,"c":0.09},{"t":1917.5,"a":0.385,"b":0.032,"c":0.075},
{"t":1920,"a":0.39,"b":0.029,"c":0.06},{"t":1922.5,"a":0.377,"b":0.022,"c":0.063},{"t":1925,"a":0.339,"b":0.02,"c":0.072},{"t":1927.5,"a":0.285,"b":0.022,"c":0.085},{"t":1930,"a":0.22,"b":0.029,"c":0.10},{"t":1932.5,"a":0.155,"b":0.039,"c":0.115},{"t":1935,"a":0.101,"b":0.05,"c":0.128},{"t":1937.5,"a":0.063,"b":0.061,"c":0.137},{"t":1940,"a":0.05,"b":0.071,"c":0.14},{"t":1942.5,"a":0.067,"b":0.078,"c":0.137},{"t":1945,"a":0.116,"b":0.08,"c":0.128},{"t":1947.5,"a":0.186,"b":0.078,"c":0.115},{"t":1950,"a":0.27,"b":0.071,"c":0.10},{"t":1952.5,"a":0.354,"b":0.061,"c":0.085},{"t":1955,"a":0.424,"b":0.05,"c":0.072},{"t":1957.5,"a":0.473,"b":0.06,"c":0.08},
{"t":1960,"a":0.47,"b":0.069,"c":0.094},{"t":1962.5,"a":0.427,"b":0.066,"c":0.102},{"t":1965,"a":0.367,"b":0.069,"c":0.114},{"t":1967.5,"a":0.285,"b":0.076,"c":0.13},{"t":1970,"a":0.203,"b":0.086,"c":0.146},{"t":1972.5,"a":0.143,"b":0.10,"c":0.158},{"t":1975,"a":0.101,"b":0.114,"c":0.166},{"t":1977.5,"a":0.08,"b":0.124,"c":0.17},{"t":1980,"a":0.101,"b":0.132,"c":0.166},{"t":1982.5,"a":0.141,"b":0.135,"c":0.158},{"t":1985,"a":0.20,"b":0.132,"c":0.146},{"t":1987.5,"a":0.28,"b":0.124,"c":0.13},{"t":1990,"a":0.36,"b":0.114,"c":0.114},{"t":1992.5,"a":0.419,"b":0.10,"c":0.102},{"t":1995,"a":0.46,"b":0.086,"c":0.094},{"t":1997.5,"a":0.475,"b":0.085,"c":0.095},
{"t":2000,"a":0.48,"b":0.089,"c":0.105},{"t":2002.5,"a":0.465,"b":0.082,"c":0.108},{"t":2005,"a":0.422,"b":0.08,"c":0.116},{"t":2007.5,"a":0.36,"b":0.082,"c":0.127},{"t":2010,"a":0.285,"b":0.089,"c":0.14},{"t":2012.5,"a":0.211,"b":0.099,"c":0.153},{"t":2015,"a":0.149,"b":0.11,"c":0.165},{"t":2017.5,"a":0.105,"b":0.121,"c":0.172},{"t":2020,"a":0.09,"b":0.131,"c":0.175},{"t":2022.5,"a":0.103,"b":0.138,"c":0.172},{"t":2025,"a":0.141,"b":0.14,"c":0.165},{"t":2027.5,"a":0.195,"b":0.138,"c":0.153},{"t":2030,"a":0.26,"b":0.131,"c":0.14},{"t":2032.5,"a":0.325,"b":0.121,"c":0.127},{"t":2035,"a":0.379,"b":0.11,"c":0.116},{"t":2037.5,"a":0.417,"b":0.09,"c":0.10},
{"t":2040,"a":0.412,"b":0.063,"c":0.089},{"t":2042.5,"a":0.375,"b":0.061,"c":0.096},{"t":2045,"a":0.322,"b":0.063,"c":0.106},{"t":2047.5,"a":0.25,"b":0.069,"c":0.12},{"t":2050,"a":0.178,"b":0.078,"c":0.134},{"t":2052.5,"a":0.125,"b":0.09,"c":0.144},{"t":2055,"a":0.088,"b":0.102,"c":0.152},{"t":2057.5,"a":0.07,"b":0.111,"c":0.155},{"t":2060,"a":0.088,"b":0.117,"c":0.152},{"t":2062.5,"a":0.111,"b":0.12,"c":0.144},{"t":2065,"a":0.151,"b":0.117,"c":0.134},{"t":2067.5,"a":0.205,"b":0.111,"c":0.12},{"t":2070,"a":0.259,"b":0.102,"c":0.106},{"t":2072.5,"a":0.299,"b":0.09,"c":0.096},{"t":2075,"a":0.327,"b":0.078,"c":0.089},{"t":2077.5,"a":0.337,"b":0.06,"c":0.07},
{"t":2080,"a":0.34,"b":0.039,"c":0.055},{"t":2082.5,"a":0.329,"b":0.032,"c":0.058},{"t":2085,"a":0.295,"b":0.03,"c":0.066},{"t":2087.5,"a":0.247,"b":0.032,"c":0.077},{"t":2090,"a":0.19,"b":0.039,"c":0.09},{"t":2092.5,"a":0.133,"b":0.049,"c":0.103},{"t":2095,"a":0.085,"b":0.06,"c":0.115},{"t":2097.5,"a":0.051,"b":0.071,"c":0.122},{"t":2100,"a":0.04,"b":0.081,"c":0.125},{"t":2102.5,"a":0.051,"b":0.088,"c":0.122},{"t":2105,"a":0.085,"b":0.09,"c":0.115},{"t":2107.5,"a":0.133,"b":0.088,"c":0.103},{"t":2110,"a":0.19,"b":0.081,"c":0.09},{"t":2112.5,"a":0.247,"b":0.071,"c":0.077},{"t":2115,"a":0.295,"b":0.06,"c":0.066},{"t":2117.5,"a":0.329,"b":0.055,"c":0.058},
{"t":2120,"a":0.324,"b":0.05,"c":0.05},{"t":2122.5,"a":0.291,"b":0.045,"c":0.04},{"t":2125,"a":0.244,"b":0.04,"c":0.03},{"t":2127.5,"a":0.18,"b":0.035,"c":0.02},{"t":2130,"a":0.116,"b":0.03,"c":0.012},{"t":2132.5,"a":0.069,"b":0.026,"c":0.016},{"t":2135,"a":0.036,"b":0.022,"c":0.025},{"t":2137.5,"a":0.02,"b":0.02,"c":0.035},{"t":2140,"a":0.036,"b":0.02,"c":0.045},{"t":2142.5,"a":0.078,"b":0.024,"c":0.052},{"t":2145,"a":0.134,"b":0.03,"c":0.06},{"t":2147.5,"a":0.21,"b":0.04,"c":0.07},{"t":2150,"a":0.286,"b":0.05,"c":0.08},{"t":2152.5,"a":0.342,"b":0.058,"c":0.085},{"t":2155,"a":0.381,"b":0.065,"c":0.09},{"t":2157.5,"a":0.395,"b":0.062,"c":0.07},
{"t":2160,"a":0.40,"b":0.059,"c":0.055},{"t":2162.5,"a":0.387,"b":0.052,"c":0.058},{"t":2165,"a":0.349,"b":0.05,"c":0.066},{"t":2167.5,"a":0.295,"b":0.052,"c":0.077},{"t":2170,"a":0.23,"b":0.059,"c":0.09},{"t":2172.5,"a":0.165,"b":0.069,"c":0.103},{"t":2175,"a":0.111,"b":0.08,"c":0.115},{"t":2177.5,"a":0.073,"b":0.091,"c":0.122},{"t":2180,"a":0.06,"b":0.101,"c":0.125},{"t":2182.5,"a":0.074,"b":0.108,"c":0.122},{"t":2185,"a":0.116,"b":0.11,"c":0.115},{"t":2187.5,"a":0.174,"b":0.108,"c":0.103},{"t":2190,"a":0.245,"b":0.101,"c":0.09},{"t":2192.5,"a":0.316,"b":0.091,"c":0.077},{"t":2195,"a":0.375,"b":0.08,"c":0.066},{"t":2197.5,"a":0.416,"b":0.075,"c":0.07},
{"t":2200,"a":0.412,"b":0.073,"c":0.079},{"t":2202.5,"a":0.375,"b":0.071,"c":0.086},{"t":2205,"a":0.322,"b":0.073,"c":0.096},{"t":2207.5,"a":0.25,"b":0.079,"c":0.11},{"t":2210,"a":0.178,"b":0.088,"c":0.124},{"t":2212.5,"a":0.125,"b":0.10,"c":0.134},{"t":2215,"a":0.088,"b":0.112,"c":0.142},{"t":2217.5,"a":0.07,"b":0.121,"c":0.145},{"t":2220,"a":0.088,"b":0.127,"c":0.142},{"t":2222.5,"a":0.117,"b":0.13,"c":0.134},{"t":2225,"a":0.163,"b":0.127,"c":0.124},{"t":2227.5,"a":0.225,"b":0.121,"c":0.11},{"t":2230,"a":0.287,"b":0.112,"c":0.096},{"t":2232.5,"a":0.333,"b":0.10,"c":0.086},{"t":2235,"a":0.365,"b":0.088,"c":0.079},{"t":2237.5,"a":0.376,"b":0.075,"c":0.065},
{"t":2240,"a":0.38,"b":0.066,"c":0.055},{"t":2242.5,"a":0.367,"b":0.058,"c":0.058},{"t":2245,"a":0.331,"b":0.055,"c":0.066},{"t":2247.5,"a":0.278,"b":0.058,"c":0.077},{"t":2250,"a":0.215,"b":0.066,"c":0.09},{"t":2252.5,"a":0.152,"b":0.077,"c":0.103},{"t":2255,"a":0.10,"b":0.09,"c":0.115},{"t":2257.5,"a":0.063,"b":0.103,"c":0.122},{"t":2260,"a":0.05,"b":0.115,"c":0.125},{"t":2262.5,"a":0.058,"b":0.122,"c":0.122},{"t":2265,"a":0.083,"b":0.125,"c":0.115},{"t":2267.5,"a":0.118,"b":0.122,"c":0.103},{"t":2270,"a":0.16,"b":0.115,"c":0.09},{"t":2272.5,"a":0.202,"b":0.103,"c":0.077},{"t":2275,"a":0.237,"b":0.09,"c":0.066},{"t":2277.5,"a":0.262,"b":0.06,"c":0.045},
{"t":2280,"a":0.258,"b":0.033,"c":0.029},{"t":2282.5,"a":0.233,"b":0.031,"c":0.036},{"t":2285,"a":0.198,"b":0.033,"c":0.046},{"t":2287.5,"a":0.15,"b":0.039,"c":0.06},{"t":2290,"a":0.102,"b":0.048,"c":0.074},{"t":2292.5,"a":0.067,"b":0.06,"c":0.084},{"t":2295,"a":0.042,"b":0.072,"c":0.092},{"t":2297.5,"a":0.03,"b":0.081,"c":0.095},{"t":2300,"a":0.042,"b":0.087,"c":0.092},{"t":2302.5,"a":0.056,"b":0.09,"c":0.084},{"t":2305,"a":0.081,"b":0.087,"c":0.074},{"t":2307.5,"a":0.115,"b":0.081,"c":0.06},{"t":2310,"a":0.149,"b":0.072,"c":0.046},{"t":2312.5,"a":0.174,"b":0.06,"c":0.036},{"t":2315,"a":0.192,"b":0.048,"c":0.029},{"t":2317.5,"a":0.198,"b":0.04,"c":0.033},
{"t":2320,"a":0.20,"b":0.035,"c":0.04},{"t":2322.5,"a":0.193,"b":0.03,"c":0.03},{"t":2325,"a":0.173,"b":0.025,"c":0.02},{"t":2327.5,"a":0.144,"b":0.021,"c":0.013},{"t":2330,"a":0.11,"b":0.02,"c":0.01},{"t":2332.5,"a":0.076,"b":0.024,"c":0.014},{"t":2335,"a":0.047,"b":0.03,"c":0.02},{"t":2337.5,"a":0.027,"b":0.037,"c":0.03},{"t":2340,"a":0.02,"b":0.045,"c":0.04},{"t":2342.5,"a":0.03,"b":0.052,"c":0.05},{"t":2345,"a":0.061,"b":0.06,"c":0.06},{"t":2347.5,"a":0.103,"b":0.066,"c":0.07},{"t":2350,"a":0.155,"b":0.07,"c":0.08},{"t":2352.5,"a":0.207,"b":0.066,"c":0.077},{"t":2355,"a":0.25,"b":0.06,"c":0.07},{"t":2357.5,"a":0.28,"b":0.045,"c":0.055},
{"t":2360,"a":0.278,"b":0.033,"c":0.039},{"t":2362.5,"a":0.252,"b":0.031,"c":0.046},{"t":2365,"a":0.215,"b":0.033,"c":0.056},{"t":2367.5,"a":0.165,"b":0.039,"c":0.07},{"t":2370,"a":0.115,"b":0.048,"c":0.084},{"t":2372.5,"a":0.078,"b":0.06,"c":0.094},{"t":2375,"a":0.053,"b":0.072,"c":0.102},{"t":2377.5,"a":0.04,"b":0.081,"c":0.105},{"t":2380,"a":0.053,"b":0.087,"c":0.102},{"t":2382.5,"a":0.069,"b":0.09,"c":0.094},{"t":2385,"a":0.097,"b":0.087,"c":0.084},{"t":2387.5,"a":0.135,"b":0.081,"c":0.07},{"t":2390,"a":0.173,"b":0.072,"c":0.056},{"t":2392.5,"a":0.201,"b":0.06,"c":0.046},{"t":2395,"a":0.221,"b":0.048,"c":0.039},{"t":2397.5,"a":0.228,"b":0.045,"c":0.04},
{"t":2400,"a":0.23,"b":0.049,"c":0.045},{"t":2402.5,"a":0.223,"b":0.042,"c":0.048},{"t":2405,"a":0.202,"b":0.04,"c":0.056},{"t":2407.5,"a":0.171,"b":0.042,"c":0.067},{"t":2410,"a":0.135,"b":0.049,"c":0.08},{"t":2412.5,"a":0.099,"b":0.059,"c":0.093},{"t":2415,"a":0.069,"b":0.07,"c":0.105},{"t":2417.5,"a":0.047,"b":0.081,"c":0.112},{"t":2420,"a":0.04,"b":0.091,"c":0.115},{"t":2422.5,"a":0.053,"b":0.098,"c":0.112},{"t":2425,"a":0.09,"b":0.10,"c":0.105},{"t":2427.5,"a":0.142,"b":0.098,"c":0.093},{"t":2430,"a":0.205,"b":0.091,"c":0.08},{"t":2432.5,"a":0.268,"b":0.081,"c":0.067},{"t":2435,"a":0.321,"b":0.07,"c":0.056},{"t":2437.5,"a":0.358,"b":0.055,"c":0.058},
{"t":2440,"a":0.353,"b":0.044,"c":0.06},{"t":2442.5,"a":0.317,"b":0.04,"c":0.045},{"t":2445,"a":0.265,"b":0.044,"c":0.03},{"t":2447.5,"a":0.195,"b":0.052,"c":0.018},{"t":2450,"a":0.125,"b":0.064,"c":0.012},{"t":2452.5,"a":0.074,"b":0.08,"c":0.018},{"t":2455,"a":0.038,"b":0.096,"c":0.03},{"t":2457.5,"a":0.02,"b":0.107,"c":0.045},{"t":2460,"a":0.038,"b":0.116,"c":0.06},{"t":2462.5,"a":0.081,"b":0.128,"c":0.075},{"t":2465,"a":0.14,"b":0.136,"c":0.09},{"t":2467.5,"a":0.22,"b":0.134,"c":0.10},{"t":2470,"a":0.30,"b":0.13,"c":0.11},{"t":2472.5,"a":0.359,"b":0.125,"c":0.118},{"t":2475,"a":0.40,"b":0.12,"c":0.12},{"t":2477.5,"a":0.415,"b":0.12,"c":0.11},
{"t":2480,"a":0.41,"b":0.12,"c":0.10},{"t":2482.5,"a":0.38,"b":0.115,"c":0.095},{"t":2485,"a":0.30,"b":0.11,"c":0.09},{"t":2487.5,"a":0.22,"b":0.105,"c":0.078},{"t":2490,"a":0.17,"b":0.10,"c":0.07},{"t":2492.5,"a":0.22,"b":0.095,"c":0.073},{"t":2495,"a":0.32,"b":0.09,"c":0.08},{"t":2497.5,"a":0.39,"b":0.085,"c":0.085},{"t":2500,"a":0.42,"b":0.08,"c":0.09}
]},
"transform": [{"fold": ["a", "b", "c"], "as": ["s", "v"]}, {"filter": "isValid(datum.v)"}],
"encoding": {
  "x": {"field": "t", "type": "quantitative", "scale": {"domain": [0, 2500], "nice": false, "zero": false}, "axis": null},
  "y": {"field": "v", "type": "quantitative", "scale": {"domain": [0, 0.75], "nice": false, "zero": false}, "axis": null}
},
"layer": [
  {"transform": [{"filter": "datum.s == 'a'"}],
   "mark": {"type": "line", "color": "#0000ff", "strokeWidth": 1.4},
   "encoding": {
     "x": {"field": "t", "type": "quantitative", "scale": {"domain": [0, 2500], "nice": false, "zero": false},
           "axis": {"orient": "bottom", "values": [0, 500, 1000, 1500, 2000, 2500], "format": "d", "labelFlush": false, "labelOverlap": false,
                    "labelPadding": 19, "title": "t", "titleFontStyle": "italic", "titlePadding": 0}},
     "y": {"field": "v", "type": "quantitative", "scale": {"domain": [0, 0.75], "nice": false, "zero": false},
           "axis": {"orient": "left", "values": [0, 0.1, 0.2, 0.3, 0.4, 0.5, 0.6, 0.7], "format": ".1~f", "labelOverlap": false,
                    "labelFlush": false, "labelPadding": 18, "title": "|\u03d5\u0304\u2c7c|", "titlePadding": 10}}
   }},
  {"transform": [{"filter": "datum.s == 'a'"}],
   "mark": {"type": "point", "shape": "circle", "filled": false, "color": "#0000ff", "size": 100, "strokeWidth": 1.3, "opacity": 1},
   "encoding": {}},
  {"transform": [{"filter": "datum.s == 'b'"}],
   "mark": {"type": "line", "color": "#008000", "strokeWidth": 1.3, "strokeDash": [6, 3, 1.5, 3]},
   "encoding": {}},
  {"transform": [{"filter": "datum.s == 'b'"}],
   "mark": {"type": "point", "shape": "square", "filled": false, "color": "#008000", "size": 72, "strokeWidth": 1.3, "opacity": 1},
   "encoding": {}},
  {"transform": [{"filter": "datum.s == 'c'"}],
   "mark": {"type": "line", "color": "#ff0000", "strokeWidth": 1.3, "strokeDash": [7, 4]},
   "encoding": {}},
  {"transform": [{"filter": "datum.s == 'c'"}],
   "mark": {"type": "point", "shape": "triangle-down", "filled": false, "color": "#ff0000", "size": 170, "strokeWidth": 1.3, "opacity": 1},
   "encoding": {}},
  {"transform": [{"filter": "datum.t < 0"}],
   "mark": {"type": "point", "filled": false, "opacity": 1},
   "encoding": {
     "x": {"field": "t", "type": "quantitative", "scale": {"domain": [0, 2500], "nice": false, "zero": false},
           "axis": {"orient": "top", "values": [0, 500, 1000, 1500, 2000, 2500], "labels": false, "title": null}},
     "y": {"field": "v", "type": "quantitative", "scale": {"domain": [0, 0.75], "nice": false, "zero": false},
           "axis": {"orient": "right", "values": [0, 0.1, 0.2, 0.3, 0.4, 0.5, 0.6, 0.7], "labels": false, "title": null}},
     "color": {"field": "s", "type": "nominal",
               "scale": {"domain": ["a", "b", "c"], "range": ["#0000ff", "#008000", "#ff0000"]},
               "legend": {"orient": "none", "legendX": 598, "legendY": 18, "title": null, "padding": 0,
                          "labelFont": "Liberation Serif, DejaVu Serif, serif", "labelFontSize": 26, "labelColor": "black", "labelLimit": 500,
                          "labelOffset": 4, "symbolSize": 6084, "symbolStrokeWidth": 1.4, "rowPadding": 7, "clipHeight": 28,
                          "labelExpr": "datum.value == 'a' ? '|\u2009\u03d5\u0304\u2081\u2009| (Onda madre)' : (datum.value == 'b' ? '|\u2009\u03d5\u0304\u2082\u2009|' : '|\u2009\u03d5\u0304\u2083\u2009|')"}},
     "shape": {"field": "s", "type": "nominal",
               "scale": {"domain": ["a", "b", "c"],
                         "range": ["M-1,0H-0.14M0.14,0H1M0.14,0A0.14,0.14,0,1,1,-0.14,0A0.14,0.14,0,1,1,0.14,0Z",
                                   "M-1,0H-0.96M-0.67,0H-0.31M0.31,0H0.67M0.96,0H1M-0.09,-0.09H0.09V0.09H-0.09ZM-0.02,0H0.02",
                                   "M-1,0H-0.62M0.62,0H1M-0.17,-0.12H0.17L0,0.17Z"]},
               "legend": {"orient": "none", "legendX": 598, "legendY": 18, "title": null, "padding": 0,
                          "labelFont": "Liberation Serif, DejaVu Serif, serif", "labelFontSize": 26, "labelColor": "black", "labelLimit": 500,
                          "labelOffset": 4, "symbolSize": 6084, "symbolStrokeWidth": 1.4, "rowPadding": 7, "clipHeight": 28,
                          "labelExpr": "datum.value == 'a' ? '|\u2009\u03d5\u0304\u2081\u2009| (Onda madre)' : (datum.value == 'b' ? '|\u2009\u03d5\u0304\u2082\u2009|' : '|\u2009\u03d5\u0304\u2083\u2009|')"}}
   }}
],
"resolve": {"axis": {"x": "independent", "y": "independent"}}
}
